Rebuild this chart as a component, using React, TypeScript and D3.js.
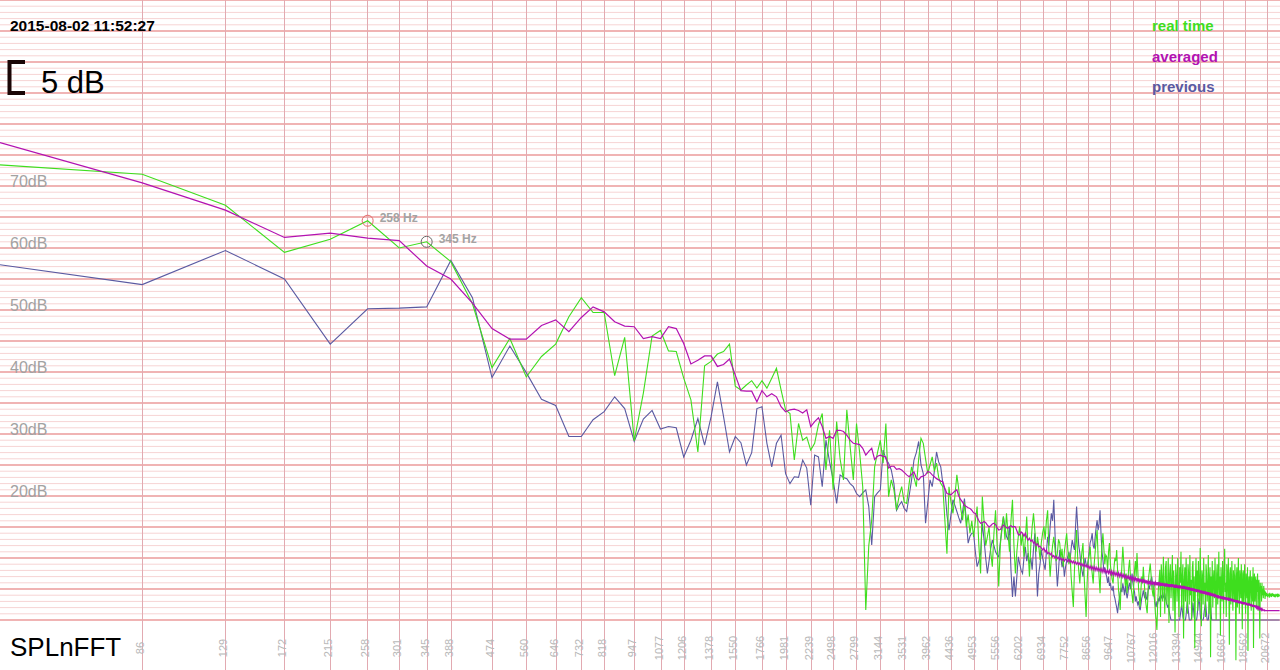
import { useEffect } from "react";
import * as d3 from "d3";

// FFT bin width: 44.1 kHz / 1024
const BIN_HZ = 44100 / 1024;
const W = 1280;
const H = 670;

// dB per bin, bin 1 .. 511
const realTime = [
  73.4, 71.9, 66.9, 59.3, 61.4, 64.4, 60.0, 61.0, 57.8, 51.0, // 1
  40.7, 45.4, 39.2, 42.5, 44.5, 48.9, 52.0, 49.6, 49.6, 39.4, // 11
  45.6, 28.9, 36.6, 45.8, 46.7, 43.4, 43.3, 39.0, 35.5, 27.1, // 21
  41.0, 41.7, 42.9, 43.3, 44.5, 37.7, 37.1, 37.9, 38.6, 37.4, // 31
  38.6, 37.4, 39.0, 40.6, 37.1, 33.9, 33.3, 25.8, 31.7, 29.0, // 41
  29.5, 27.4, 28.5, 31.5, 33.3, 24.2, 30.6, 21.0, 32.0, 26.0, // 51
  22.6, 33.9, 28.0, 22.6, 31.7, 27.0, 21.5, 1.6, 12.0, 16.1, // 61
  24.7, 27.0, 29.0, 25.3, 31.7, 19.9, 22.6, 21.0, 17.7, 20.0, // 71
  21.5, 19.0, 18.8, 22.0, 24.7, 23.0, 21.5, 26.0, 29.3, 28.5, // 81
  26.0, 23.6, 25.0, 26.3, 24.0, 25.3, 23.0, 22.0, 21.5, 16.0, // 91
  10.7, 21.5, 19.0, 17.2, 20.0, 23.4, 21.0, 18.0, 16.1, 19.0, // 101
  15.0, 17.0, 14.0, 16.0, 13.4, 16.0, 18.3, 12.0, 7.5, 19.9, // 111
  16.0, 12.0, 13.4, 15.0, 11.0, 8.6, 14.0, 17.7, 12.0, 5.4, // 121
  12.0, 15.0, 16.7, 13.0, 17.2, 14.0, 11.0, 16.0, 19.4, 12.0, // 131
  7.5, 11.0, 13.5, 15.1, 12.0, 14.0, 10.2, 13.0, 16.7, 11.0, // 141
  7.0, 12.0, 15.0, 17.2, 14.5, 11.0, 13.4, 12.0, 9.7, 12.5, // 151
  14.0, 15.1, 13.0, 16.0, 17.7, 11.0, 7.0, 10.0, 12.0, 13.4, // 161
  11.5, 9.5, 10.8, 13.0, 12.4, 10.0, 11.5, 8.6, 11.0, 12.5, // 171
  14.0, 11.5, 9.0, 10.8, 7.0, 4.5, 2.1, 8.0, 11.5, 14.5, // 181
  10.0, 8.0, 5.9, 9.0, 11.0, 12.4, 7.5, 4.0, 0.5, 6.0, // 191
  9.5, 10.5, 11.8, 9.0, 7.5, 5.9, 9.0, 11.0, 13.0, 14.5, // 201
  10.0, 7.0, 4.3, 9.0, 12.0, 14.0, 11.5, 9.0, 10.5, 10.2, // 211
  8.0, 11.0, 12.4, 9.0, 7.5, 6.5, 5.9, 8.5, 10.0, 9.5, // 221
  11.3, 8.0, 5.0, 3.5, 1.6, 6.0, 9.0, 11.8, 9.5, 7.0, // 231
  5.5, 7.5, 4.3, 6.5, 8.5, 9.7, 7.0, 5.0, 4.0, 2.7, // 241
  5.5, 8.0, 9.5, 7.0, 10.8, 8.0, 5.0, 3.5, 2.1, 5.0, // 251
  7.0, 6.0, 8.6, 6.5, 4.5, 3.0, 2.0, 1.1, 4.0, 7.0, // 261
  8.0, 9.1, 7.5, 5.5, 4.5, 3.8, 6.0, 3.0, 1.0, 0.0, // 271
  -1.6, 2.5, 5.0, 6.5, 8.1, 0.5, 9.0, 7.0, 3.0, 10.2, // 281
  6.0, 1.0, 8.5, 9.5, 2.5, 5.5, 10.0, -0.5, 7.5, 9.0, // 291
  3.5, 6.5, 10.5, 1.5, 8.0, 5.0, -2.0, 9.0, 7.0, 3.0, // 301
  10.0, 4.5, 0.5, 8.5, 6.0, 11.0, 2.0, 7.0, 9.0, -3.0, // 311
  6.5, 8.5, 3.0, 10.0, 5.5, 1.0, 9.0, 7.5, 2.5, 10.5, // 321
  4.0, 6.5, 0.0, 8.5, 9.5, 3.0, 7.0, -4.5, 6.0, 10.0, // 331
  4.5, 8.0, 1.5, 9.5, 5.5, 3.0, 11.6, 6.5, -1.0, 8.0, // 341
  7.0, 2.5, 10.0, 4.5, 6.0, 0.5, 9.0, 7.5, 3.0, 5.0, // 351
  10.5, 1.0, 6.5, 8.5, -6.0, 7.0, 4.0, 9.5, 2.0, 6.5, // 361
  8.0, 3.5, 10.0, 5.0, 0.0, 7.5, 9.0, 2.5, 6.0, 11.0, // 371
  4.0, 7.0, -2.5, 8.5, 5.5, 3.0, 9.5, 6.5, 1.0, 8.0, // 381
  11.5, 4.5, 6.0, 0.5, 9.0, 7.0, 3.5, 10.0, 5.0, -4.0, // 391
  7.5, 8.5, 2.5, 6.0, 9.5, 4.0, 1.5, 8.0, 6.5, 3.0, // 401
  9.0, 5.5, -6.5, 7.0, 8.5, 2.0, 6.0, 10.0, 4.5, 1.0, // 411
  8.0, 6.5, 3.5, 9.0, 5.0, -1.5, 7.5, 8.0, 2.5, 6.0, // 421
  9.0, 4.0, 1.0, 7.5, 6.0, 3.5, 8.5, -5.0, 5.5, 7.0, // 431
  2.5, 6.5, 8.0, 4.0, 1.5, 7.0, 5.5, 3.0, 8.5, -4.5, // 441
  6.0, 7.5, 3.0, 5.5, 7.0, 2.0, 6.5, 4.5, 7.5, 1.5, // 451
  5.5, 6.5, 3.5, -3.0, 6.0, 4.5, 5.5, 3.0, 6.0, 4.0, // 461
  5.0, 3.5, 5.5, 4.0, 4.8, 3.4, 4.6, 3.8, 4.4, 3.9, // 471
  4.2, 3.7, 4.3, 3.9, 4.1, 3.6, 4.4, 3.8, 4.2, 4.0, // 481
  3.7, 4.3, 3.9, 4.1, 3.8, 4.2, 3.9, 4.0, 3.7, 4.1, // 491
  3.9, 4.2, 3.8, 4.0, 4.1, 3.7, 4.0, 3.9, 4.2, 3.8, 4.0, // 501
];

const averaged = [
  77.0, 70.5, 66.1, 61.7, 62.4, 61.6, 61.2, 57.1, 55.0, 51.1, // 1
  47.0, 45.3, 45.3, 47.5, 48.4, 46.5, 48.8, 50.5, 49.7, 48.1, // 11
  47.4, 47.3, 45.4, 45.7, 45.4, 47.3, 47.0, 44.6, 41.3, 41.9, // 21
  42.6, 42.6, 40.9, 41.2, 42.1, 39.5, 37.0, 36.9, 36.9, 35.2, // 31
  37.0, 36.0, 36.5, 36.0, 34.4, 33.6, 33.9, 34.0, 33.8, 33.4, // 41
  33.9, 31.2, 32.0, 32.6, 31.2, 29.3, 29.6, 29.3, 30.6, 30.6, // 51
  30.4, 29.8, 29.0, 28.5, 28.4, 28.3, 27.7, 26.6, 27.2, 27.7, // 61
  25.9, 26.4, 26.6, 26.4, 26.3, 24.5, 24.8, 24.8, 24.3, 24.4, // 71
  24.2, 23.8, 23.4, 23.1, 23.5, 23.9, 22.9, 22.6, 23.1, 23.2, // 81
  23.4, 24.0, 23.8, 23.4, 23.1, 22.8, 22.6, 22.4, 22.3, 21.2, // 91
  20.4, 20.3, 20.2, 20.5, 20.8, 21.0, 20.0, 19.4, 19.0, 18.5, // 101
  18.3, 18.1, 18.0, 17.7, 17.3, 17.2, 16.6, 16.0, 15.6, 15.7, // 111
  15.9, 15.7, 15.3, 15.0, 15.2, 15.5, 15.6, 15.4, 14.9, 14.5, // 121
  14.6, 15.0, 15.3, 15.1, 14.9, 14.8, 15.1, 15.2, 15.0, 15.1, // 131
  15.0, 14.4, 13.8, 13.7, 14.2, 14.0, 13.5, 14.0, 13.3, 12.9, // 141
  13.2, 12.7, 12.9, 12.4, 12.6, 12.0, 12.3, 11.8, 11.9, 11.6, // 151
  11.3, 11.6, 11.0, 11.3, 10.7, 10.9, 10.5, 10.8, 10.2, 10.4, // 161
  10.0, 10.3, 9.9, 10.1, 9.7, 10.0, 9.6, 9.9, 9.5, 9.8, // 171
  9.7, 9.4, 9.8, 9.3, 9.6, 9.2, 9.5, 9.1, 9.4, 9.0, // 181
  9.3, 8.9, 9.2, 8.8, 9.1, 8.7, 9.0, 8.6, 8.9, 8.5, // 191
  8.8, 8.3, 8.7, 8.2, 8.6, 8.1, 8.6, 8.0, 8.5, 8.0, // 201
  8.4, 7.9, 8.3, 7.8, 8.3, 7.7, 8.2, 7.7, 8.1, 7.6, // 211
  8.0, 7.5, 8.0, 7.4, 7.9, 7.3, 7.8, 7.3, 7.7, 7.2, // 221
  7.6, 7.1, 7.6, 7.0, 7.5, 7.0, 7.4, 6.9, 7.3, 6.8, // 231
  7.2, 6.7, 7.2, 6.6, 7.1, 6.6, 7.0, 6.5, 6.9, 6.4, // 241
  6.9, 6.4, 6.8, 6.3, 6.8, 6.2, 6.7, 6.2, 6.6, 6.1, // 251
  6.6, 6.1, 6.5, 6.0, 6.5, 5.9, 6.4, 5.9, 6.3, 5.8, // 261
  6.3, 5.8, 6.2, 5.7, 6.2, 5.7, 6.2, 5.7, 6.1, 5.6, // 271
  6.1, 5.6, 6.1, 5.6, 6.0, 5.5, 6.0, 5.5, 6.0, 5.5, // 281
  5.9, 5.4, 5.9, 5.4, 5.9, 5.4, 5.8, 5.3, 5.8, 5.3, // 291
  5.8, 5.3, 5.8, 5.3, 5.7, 5.2, 5.7, 5.2, 5.7, 5.2, // 301
  5.6, 5.1, 5.6, 5.1, 5.6, 5.1, 5.5, 5.0, 5.5, 5.0, // 311
  5.5, 5.0, 5.4, 4.9, 5.4, 4.9, 5.3, 4.8, 5.3, 4.8, // 321
  5.2, 4.7, 5.2, 4.7, 5.1, 4.6, 5.1, 4.6, 5.0, 4.5, // 331
  5.0, 4.5, 4.9, 4.5, 4.9, 4.4, 4.8, 4.3, 4.8, 4.3, // 341
  4.7, 4.2, 4.7, 4.2, 4.6, 4.1, 4.6, 4.1, 4.5, 4.0, // 351
  4.5, 4.0, 4.4, 3.9, 4.4, 3.9, 4.3, 3.8, 4.3, 3.8, // 361
  4.2, 3.7, 4.2, 3.7, 4.1, 3.6, 4.0, 3.5, 4.0, 3.5, // 371
  3.9, 3.5, 3.9, 3.4, 3.8, 3.4, 3.8, 3.3, 3.8, 3.3, // 381
  3.7, 3.3, 3.7, 3.2, 3.6, 3.2, 3.6, 3.1, 3.6, 3.1, // 391
  3.5, 3.1, 3.5, 3.0, 3.4, 3.0, 3.4, 2.9, 3.3, 2.9, // 401
  3.3, 2.9, 3.2, 2.8, 3.2, 2.8, 3.2, 2.7, 3.1, 2.7, // 411
  3.1, 2.7, 3.0, 2.6, 3.0, 2.6, 2.9, 2.5, 2.9, 2.5, // 421
  2.9, 2.5, 2.8, 2.4, 2.8, 2.4, 2.7, 2.3, 2.7, 2.3, // 431
  2.7, 2.3, 2.6, 2.2, 2.6, 2.2, 2.5, 2.1, 2.5, 2.1, // 441
  2.4, 2.1, 2.4, 2.0, 2.3, 2.0, 2.2, 1.9, 2.1, 1.9, // 451
  2.1, 1.8, 2.0, 1.7, 1.9, 1.7, 1.8, 1.6, 1.8, 1.6, // 461
  1.7, 1.6, 1.6, 1.5, 1.6, 1.5, 1.5, 1.5, 1.5, 1.5, // 471
  1.5, 1.5, 1.5, 1.5, 1.5, 1.5, 1.5, 1.5, 1.5, 1.5, // 481
  1.5, 1.5, 1.5, 1.5, 1.5, 1.5, 1.5, 1.5, 1.5, 1.5, // 491
  1.5, 1.5, 1.5, 1.5, 1.5, 1.5, 1.5, 1.5, 1.5, 1.5, 1.5, // 501
];

const previous = [
  57.3, 54.1, 59.6, 55.0, 44.5, 50.2, 50.3, 50.5, 58.0, 52.0, // 1
  39.1, 44.2, 39.9, 35.6, 34.6, 29.6, 29.6, 32.3, 33.6, 36.0, // 11
  34.1, 28.8, 32.4, 33.8, 30.8, 31.2, 31.0, 26.3, 29.0, 32.5, // 21
  28.2, 32.8, 38.4, 32.8, 27.1, 29.6, 28.6, 25.0, 27.0, 34.1, // 31
  34.4, 28.5, 24.7, 28.5, 29.8, 23.6, 22.0, 23.1, 23.0, 25.8, // 41
  24.5, 18.5, 26.6, 26.3, 21.5, 29.0, 25.5, 22.6, 18.8, 23.4, // 51
  23.0, 22.8, 22.0, 21.5, 20.4, 19.9, 20.5, 21.0, 18.3, 12.1, // 61
  19.9, 20.5, 21.0, 27.4, 26.0, 25.3, 24.2, 22.0, 17.7, 18.5, // 71
  19.1, 18.0, 17.5, 20.0, 22.6, 25.8, 27.0, 28.8, 25.0, 23.6, // 81
  15.6, 19.0, 22.6, 21.5, 24.0, 27.1, 25.5, 24.7, 22.0, 21.0, // 91
  17.0, 14.5, 17.0, 19.4, 18.5, 17.5, 16.5, 15.6, 17.5, 19.6, // 101
  16.0, 12.4, 13.5, 14.0, 14.0, 11.0, 8.6, 9.5, 10.7, 15.6, // 111
  13.0, 10.0, 7.5, 9.5, 11.5, 12.9, 12.0, 11.0, 10.5, 10.2, // 121
  12.5, 14.5, 16.7, 15.0, 13.5, 12.9, 15.1, 8.0, 3.7, 7.0, // 131
  3.8, 7.0, 10.2, 9.0, 8.0, 7.5, 10.0, 11.8, 9.5, 10.8, // 141
  9.0, 10.0, 8.1, 11.5, 14.0, 9.0, 3.8, 7.5, 9.0, 11.3, // 151
  10.0, 9.0, 8.1, 11.0, 13.4, 12.0, 15.0, 17.2, 16.0, 19.4, // 161
  14.0, 9.0, 5.4, 8.0, 11.3, 10.0, 8.5, 9.5, 7.0, 8.5, // 171
  9.5, 10.2, 11.0, 9.5, 11.5, 12.9, 12.0, 11.3, 15.0, 18.3, // 181
  15.0, 12.0, 10.8, 9.0, 8.0, 7.0, 8.5, 10.0, 9.0, 8.6, // 191
  9.5, 11.0, 12.5, 13.0, 14.0, 12.0, 11.5, 13.4, 15.0, 16.1, // 201
  14.5, 15.5, 17.7, 14.0, 11.0, 9.7, 8.0, 8.5, 7.5, 7.0, // 211
  6.0, 7.0, 5.5, 6.0, 5.0, 4.8, 5.5, 4.0, 3.5, 2.7, // 221
  2.0, 1.1, 2.5, 3.5, 4.5, 5.0, 4.5, 5.9, 5.0, 4.0, // 231
  5.5, 4.5, 3.5, 4.3, 5.5, 6.0, 5.0, 6.5, 7.5, 6.0, // 241
  5.0, 4.5, 3.0, 3.8, 3.0, 2.5, 3.0, 2.0, 1.6, 2.5, // 251
  3.5, 4.0, 4.8, 4.0, 3.5, 4.5, 3.5, 3.2, 4.5, 5.5, // 261
  5.0, 6.0, 6.5, 7.0, 6.0, 5.0, 4.0, 3.0, 2.5, 2.1, // 271
  3.0, 2.5, 3.5, 3.0, 3.8, 3.0, 4.0, 3.5, 4.5, 3.8, // 281
  3.5, 4.3, 3.5, 3.0, 2.5, 2.0, 2.5, 1.6, 1.0, 0.5, // 291
  0, 0, 0, 0, 0, 0, 0, 0, 0, 0, // 301
  0, 0, 0, 0, 0.8, 1.6, 2.5, 1.6, 0.5, 0, // 311
  0, 0, 0, 0.8, 2.1, 3.0, 2.1, 1.0, 0, 0, // 321
  0, 0, 0.5, 1.6, 2.8, 1.6, 0.5, 0, 0, 0, // 331
  0, 0.8, 2.0, 2.7, 3.5, 2.7, 1.0, 0, 0, 0, // 341
  0, 0, 0.5, 1.5, 2.1, 3.0, 2.1, 0.8, 0, 0, // 351
  0, 1.0, 2.5, 3.8, 2.5, 1.0, 0, 0, 0, 0, // 361
  0, 0, 0, 0, 0, 0, 0, 0, 0, 0, // 371
  0, 0, 0, 0, 0, 0, 0, 0, 0, 0, // 381
  0, 0, 0, 0, 0, 0, 0, 0, 0, 0, // 391
  0, 0, 0, 0, 0, 0, 0, 0, 0, 0, // 401
  0, 0, 0, 0, 0, 0, 0, 0, 0, 0, // 411
  0, 0, 0, 0, 0, 0, 0, 0, 0, 0, // 421
  0, 0, 0, 0, 0, 0, 0, 0, 0, 0, // 431
  0, 0, 0, 0, 0, 0, 0, 0, 0, 0, // 441
  0, 0, 0, 0, 0, 0, 0, 0, 0, 0, // 451
  0, 0, 0, 0, 0, 0, 0, 0, 0, 0, // 461
  0, 0, 0, 0, 0, 0, 0, 0, 0, 0, // 471
  0, 0, 0, 0, 0, 0, 0, 0, 0, 0, // 481
  0, 0, 0, 0, 0, 0, 0, 0, 0, 0, // 491
  0, 0, 0, 0, 0, 0, 0, 0, 0, 0, 0, // 501
];

const freqTicks = [
  "86", "129", "172", "215", "258", "301", "345", "388", "474", "560", "646",
  "732", "818", "947", "1077", "1206", "1378", "1550", "1766", "1981", "2239",
  "2498", "2799", "3144", "3531", "3962", "4436", "4953", "5556", "6202",
  "6934", "7752", "8656", "9647", "10767", "12016", "13394", "14944", "16667",
  "18562", "20672",
];
const dbLabels = [70, 60, 50, 40, 30, 20];

const GREEN = "#3ede1e";
const MAGENTA = "#b212b2";
const SLATE = "#5a5aa2";

const legend = [
  { name: "real time", color: GREEN },
  { name: "averaged", color: MAGENTA },
  { name: "previous", color: SLATE },
];

// peak markers on the real-time trace (bin index, label)
const peaks = [
  { bin: 6, label: "258 Hz", color: "#e46a6a" },
  { bin: 8, label: "345 Hz", color: "#676767" },
];

const FONT = "'Liberation Sans', Arial, Helvetica, sans-serif";

export default function App() {
  useEffect(() => {
    document.body.style.margin = "0";
  }, []);

  const x = d3.scaleLog().domain([BIN_HZ, BIN_HZ * 512]).range([0, W]);
  const y = d3.scaleLinear().domain([0, 100]).range([620, 0]);

  const line = d3
    .line<number>()
    .x((_, i) => x((i + 1) * BIN_HZ))
    .y((d) => y(d));

  const gridDb = d3.range(0, 101);

  return (
    <svg
      width={W}
      height={H}
      style={{ position: "absolute", left: 0, top: 0, background: "#fff" }}
      fontFamily={FONT}
    >
      {/* horizontal grid, 1 dB minor / 5 dB major */}
      {gridDb.map((d) => (
        <line
          key={"h" + d}
          x1={0}
          x2={W}
          y1={y(d)}
          y2={y(d)}
          stroke={d % 5 === 0 ? "#f0b4b4" : "#f7d4d4"}
          strokeWidth={d % 5 === 0 ? 2 : 1}
        />
      ))}

      {/* vertical grid + frequency labels */}
      {freqTicks.map((t) => {
        const px = Math.round(x(+t)) + 0.5;
        return (
          <g key={"v" + t}>
            <line x1={px} x2={px} y1={0} y2={H} stroke="#e2aab1" strokeWidth={1} />
            <text
              transform={`translate(${px + 1},648) rotate(-90)`}
              textAnchor="middle"
              fontSize={11}
              fill="#b8b8b8"
            >
              {t}
            </text>
          </g>
        );
      })}

      {dbLabels.map((d) => (
        <text key={"db" + d} x={10} y={y(d) + 0.5} fontSize={16} fill="#a2a2a2">
          {d}dB
        </text>
      ))}

      {/* traces */}
      <path d={line(previous) ?? ""} fill="none" stroke={SLATE} strokeWidth={1.1} />
      <path d={line(realTime) ?? ""} fill="none" stroke={GREEN} strokeWidth={1.1} />
      <path d={line(averaged) ?? ""} fill="none" stroke={MAGENTA} strokeWidth={1.2} />

      {peaks.map((p) => {
        const cx = x(p.bin * BIN_HZ);
        const cy = y(realTime[p.bin - 1]);
        return (
          <g key={p.label}>
            <circle cx={cx} cy={cy} r={5.5} fill="none" stroke={p.color} strokeWidth={1} />
            <text x={cx + 12} y={cy + 1} fontSize={12} fontWeight="bold" fill="#a3a3a3">
              {p.label}
            </text>
          </g>
        );
      })}

      {/* header */}
      <text x={10} y={31} fontSize={15.5} fontWeight="bold" fill="#000">
        2015-08-02 11:52:27
      </text>
      <path
        d={`M25,${62} H9.5 V${62 + (y(0) - y(5))} H25`}
        fill="none"
        stroke="#1a0505"
        strokeWidth={4}
      />
      <text x={41} y={93} fontSize={31} fill="#000">
        5 dB
      </text>

      {legend.map((l, i) => (
        <text key={l.name} x={1152} y={31 + i * 30.7} fontSize={15} fontWeight="bold" fill={l.color}>
          {l.name}
        </text>
      ))}

      <text x={10} y={656} fontSize={26} fill="#000">
        SPLnFFT
      </text>
    </svg>
  );
}
